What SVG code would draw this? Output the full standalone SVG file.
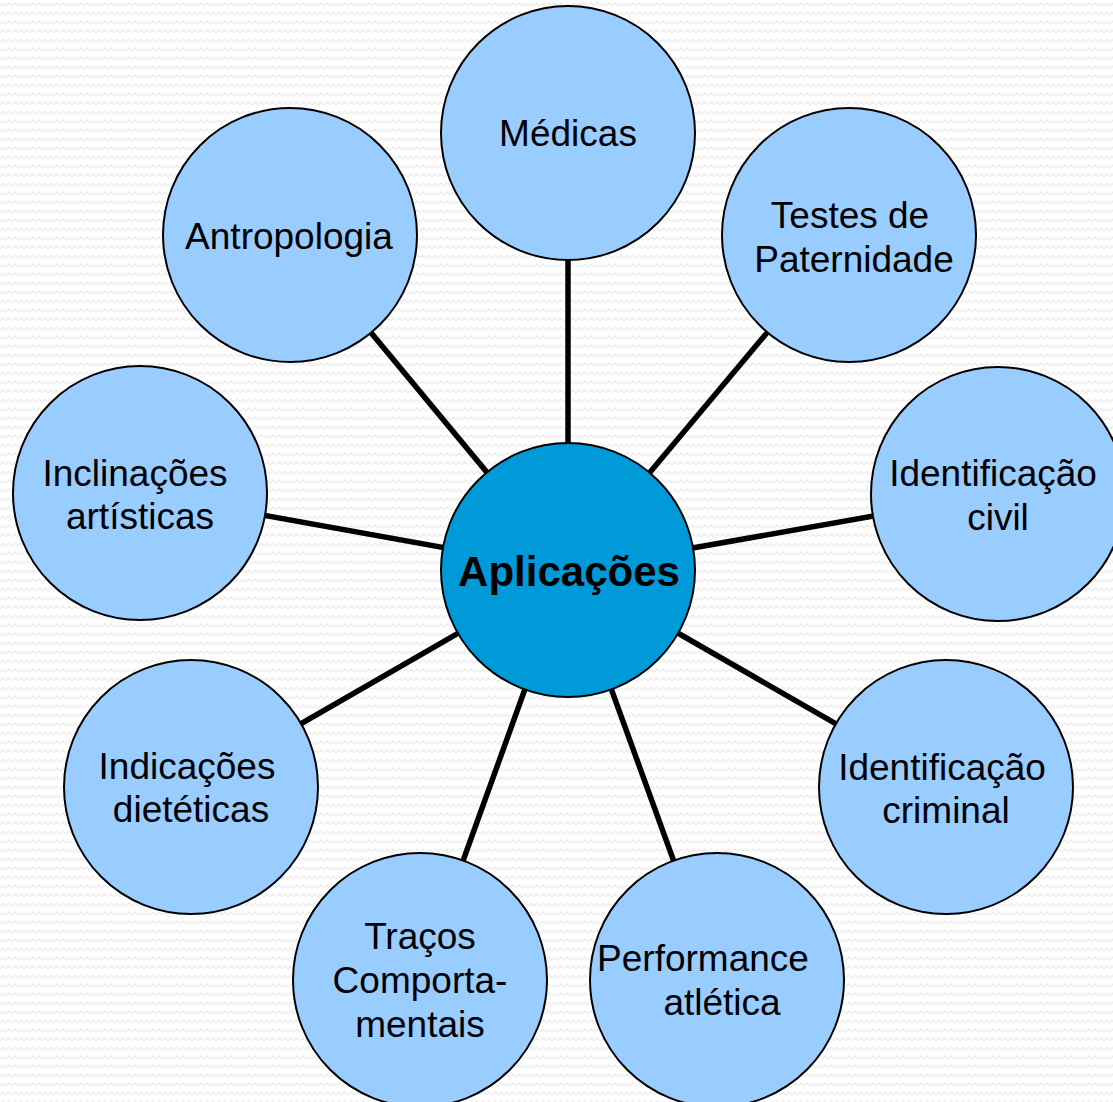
<svg xmlns="http://www.w3.org/2000/svg" width="1113" height="1102" viewBox="0 0 1113 1102">
<defs>
<pattern id="bg" width="12" height="9" patternUnits="userSpaceOnUse">
<rect width="12" height="9" fill="#ffffff"/>
<path d="M0 6 L3 3 L6 6 L9 3 L12 6" fill="none" stroke="#efefef" stroke-width="1.5"/>
</pattern>
<style>
.n{fill:#99ccff;stroke:#000;stroke-width:2}
.c{fill:#009ad8;stroke:#000;stroke-width:2}
.t{font-family:"Liberation Sans",Arial,sans-serif;font-size:37px;fill:#000;text-anchor:middle}
.b{font-weight:bold;font-size:42px}
.e{stroke:#000;stroke-width:5.5;fill:none}
</style>
</defs>
<rect width="1113" height="1102" fill="url(#bg)"/>
<g id="connectors">
<line class="e" x1="568" y1="570" x2="568" y2="133"/>
<line class="e" x1="568" y1="570" x2="849" y2="235"/>
<line class="e" x1="568" y1="570" x2="998" y2="494"/>
<line class="e" x1="568" y1="570" x2="946" y2="787"/>
<line class="e" x1="568" y1="570" x2="717" y2="980"/>
<line class="e" x1="568" y1="570" x2="420" y2="980"/>
<line class="e" x1="568" y1="570" x2="191" y2="787"/>
<line class="e" x1="568" y1="570" x2="140" y2="493"/>
<line class="e" x1="568" y1="570" x2="290" y2="235"/>
</g>
<g id="medicas"><circle class="n" cx="568" cy="133" r="127"/><text class="t" x="568" y="146">Médicas</text></g>
<g id="paternidade"><circle class="n" cx="849" cy="235" r="127"/><text class="t" x="850" y="228">Testes de</text><text class="t" x="854" y="272">Paternidade</text></g>
<g id="civil"><circle class="n" cx="998" cy="494" r="127"/><text class="t" x="993" y="486">Identificação</text><text class="t" x="998" y="530">civil</text></g>
<g id="criminal"><circle class="n" cx="946" cy="787" r="127"/><text class="t" x="942" y="780">Identificação</text><text class="t" x="946" y="823">criminal</text></g>
<g id="performance"><circle class="n" cx="717" cy="980" r="127"/><text class="t" x="703" y="971">Performance</text><text class="t" x="722" y="1015">atlética</text></g>
<g id="tracos"><circle class="n" cx="420" cy="980" r="127"/><text class="t" x="420" y="949">Traços</text><text class="t" x="420" y="993">Comporta-</text><text class="t" x="420" y="1037">mentais</text></g>
<g id="dieteticas"><circle class="n" cx="191" cy="787" r="127"/><text class="t" x="187" y="779">Indicações</text><text class="t" x="191" y="822">dietéticas</text></g>
<g id="artisticas"><circle class="n" cx="140" cy="493" r="127"/><text class="t" x="135" y="486">Inclinações</text><text class="t" x="140" y="529">artísticas</text></g>
<g id="antropologia"><circle class="n" cx="290" cy="235" r="127"/><text class="t" x="289" y="249">Antropologia</text></g>
<g id="aplicacoes"><circle class="c" cx="568" cy="570" r="127"/><text class="t b" x="569" y="586">Aplicações</text></g>
</svg>
